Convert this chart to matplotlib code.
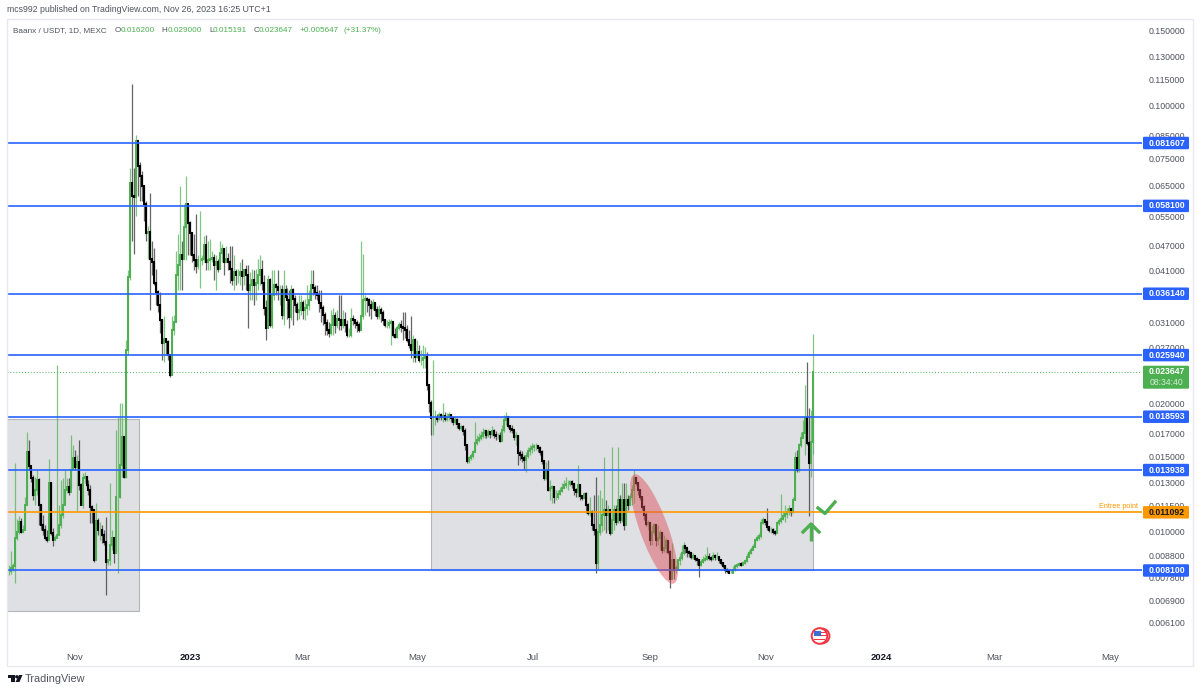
import matplotlib
matplotlib.use("Agg")
import numpy as np
import pandas as pd
import matplotlib.pyplot as plt
import matplotlib.dates as mdates
from matplotlib.patches import Rectangle, Ellipse, FancyBboxPatch, Circle, Polygon

plt.rcParams['font.family'] = ['Liberation Sans', 'DejaVu Sans']

# config
W, H = 1200, 692
GREEN = '#4caf50'
BLUE = '#2962ff'
ORANGE = '#ff9800'
GRAY_TEXT = '#50535e'

# prices, in units of 0.00001 USDT, one sample every ~2 px
closes = [
    806, 819, 828, 968, 995, 1051, 995, 1006, 1151, 1534,
    1421, 1332, 1215, 1249, 1318, 1151, 1034, 1006, 968, 953,
    1297, 990, 953, 963, 979, 1034, 1091, 1151, 1249, 1270,
    1235, 1391, 1484, 1414, 1453, 1283, 1151, 1332, 1340, 1283,
    1249, 1139, 1121, 855, 1056, 1006, 1006, 979, 943, 846,
    855, 928, 968, 889, 1202, 1202, 1429, 1663,
    1340, 2660, 3946, 6590, 6145, 6110, 8268, 7225, 6810, 6485,
    5885, 5030, 5058, 4370, 4280, 3820, 3640, 3393, 3128, 2763,
    2823, 2778, 2590, 2325, 2964, 3095, 3990, 4210, 4445, 4370,
    5170, 5860, 5310, 5030, 4445, 4325, 4190, 4325, 4325, 4350,
    4715, 4280, 4325, 4370, 4395, 4210, 4280, 4140, 4515, 4590,
    4280, 4370, 4280, 4140, 3882, 4055, 3990, 3990, 4055, 3970,
    4098, 3990, 3678, 3780, 3882, 3780, 3840, 3990, 4098, 3840,
    3338, 2995, 3882, 3045, 3580, 3780, 3740, 3678, 3678, 3215,
    3678, 3542, 3485, 3179, 3678, 3522, 3393, 3267, 3302, 3429,
    3302, 3338, 3393, 3485, 3780, 3718, 3620, 3580, 3429, 3338,
    3215, 3079, 2964, 2917, 3045, 3197, 3045, 3161, 3128, 3045,
    3128, 3045, 2886, 2886, 3161, 3128, 3079, 3045, 2964, 3197,
    3485, 3522, 3485, 3393, 3338, 3429, 3302, 3197, 3302, 3249,
    3128, 3045, 3045, 3079, 3095, 2886, 2855, 2995, 3045, 3012,
    2995, 2964, 2808, 2734, 2660, 2808, 2562, 2632, 2521, 2521,
    2550, 2562, 2202, 2000, 1842, 1842, 1842, 1833, 1873, 1853,
    1863, 1833, 1853, 1873, 1842, 1804, 1823, 1785, 1746, 1756,
    1718, 1593, 1460, 1484, 1500, 1534, 1610, 1636, 1654, 1672,
    1700, 1718, 1681, 1709, 1690, 1718, 1681, 1672, 1672, 1627,
    1727, 1823, 1853, 1765, 1737, 1727, 1663, 1672, 1525, 1509,
    1484, 1468, 1500, 1542, 1558, 1575, 1584, 1584, 1567, 1534,
    1460, 1332, 1384, 1249, 1263, 1270, 1202, 1202, 1222, 1242,
    1263, 1283, 1290, 1290, 1304, 1290, 1249, 1235, 1283, 1209,
    1196, 1222, 1151, 1103, 1109, 1034, 1006, 842, 995, 1034,
    1091, 1121, 1091, 1121, 990, 1062, 1121, 1051, 1183, 1062,
    1183, 1034, 1183, 1151, 1202, 1249, 1332, 1297, 1249, 1202,
    1139, 1091, 1040, 1045, 953, 995, 1034, 953, 963, 990,
    903, 913, 948, 894, 775, 855, 810, 819, 855, 868,
    889, 923, 913, 894, 889, 872, 876, 864, 855, 833,
    846, 855, 864, 872, 868, 864, 876, 870, 872, 855, 842,
    828, 810, 806, 801, 801, 810, 828, 833, 837, 835, 842,
    851, 872, 889, 903, 918, 953, 963, 974, 1045, 1062,
    1051, 1023, 1006, 1006, 995, 990, 1045, 1056, 1067, 1085,
    1097, 1109, 1127, 1109, 1183, 1484, 1391, 1593, 1654, 1700,
    1842, 1610, 1445, 1620, 2365,
]
highs = [
    835, 898, 843, 1445, 1067, 1086, 1073, 1034, 1202, 1708,
    1636, 1406, 1354, 1340, 1391, 1332, 1151, 1091, 1034, 1006,
    1476, 1304, 1017, 979, 2454, 1151, 1318, 1332, 1391, 1332,
    1332, 1681, 1593, 1550, 1509, 1636, 1297, 1370, 1377, 1347,
    1318, 1283, 1151, 1121, 1164, 1073, 1051, 1034, 1006, 1079,
    864, 1297, 1006, 963, 1727, 1853, 2000, 2000,
    1672, 2808, 4098, 7145, 11250, 7145, 8540, 8268, 7345, 7032,
    6485, 5980, 5225, 6245, 4818, 4615, 4140, 3678, 3640, 3161,
    3197, 2838, 2808, 2590, 3197, 3215, 4565, 5000, 6485, 4818,
    5885, 6845, 5885, 5368, 5030, 5000, 5575, 4445, 5666, 4445,
    4950, 4975, 4818, 4870, 4565, 4490, 4445, 4370, 4818, 4740,
    4615, 4690, 4515, 4690, 4690, 4445, 4140, 4140, 4280, 4370,
    4140, 4210, 4210, 4055, 4140, 4098, 4140, 4370, 4445, 4325,
    3990, 3485, 3990, 3925, 4098, 4098, 3840, 4098, 3780, 3780,
    4098, 3780, 3718, 3678, 3780, 3718, 3580, 3448, 3580, 3580,
    3485, 3522, 3780, 3678, 4098, 4098, 3780, 3780, 3678, 3678,
    3393, 3267, 3161, 3095, 3302, 3338, 3267, 3302, 3580, 3580,
    3302, 3267, 3128, 2995, 3338, 3215, 3161, 3128, 3095, 4818,
    4490, 3580, 3560, 3540, 3485, 3522, 3429, 3375, 3393, 3356,
    3302, 3161, 3128, 3161, 3161, 3095, 2995, 3045, 3095, 3128,
    3267, 3267, 3045, 2964, 3197, 2886, 2838, 2808, 2734, 2660,
    2734, 2704, 2632, 2202, 2031, 2521, 1924, 1883, 1904, 1893,
    2000, 1904, 1893, 1904, 1883, 1863, 1853, 1842, 1794, 1775,
    1775, 1746, 1593, 1500, 1525, 1550, 1804, 1681, 1700, 1718,
    1746, 1737, 1727, 1737, 1718, 1765, 1737, 1718, 1700, 1709,
    1775, 1873, 1904, 1863, 1775, 1775, 1727, 1709, 1681, 1550,
    1542, 1509, 1534, 1575, 1593, 1610, 1601, 1610, 1593, 1584,
    1550, 1468, 1453, 1468, 1318, 1283, 1270, 1249, 1249, 1270,
    1297, 1318, 1340, 1318, 1318, 1318, 1297, 1263, 1429, 1290,
    1215, 1235, 1235, 1164, 1202, 1121, 1215, 1340, 1215, 1249,
    1196, 1492, 1183, 1151, 1121, 1575, 1151, 1151, 1575, 1215,
    1297, 1297, 1297, 1215, 1228, 1283, 1391, 1340, 1304, 1249,
    1202, 1151, 1109, 1062, 1051, 1034, 1045, 1034, 1034, 1006,
    995, 979, 968, 948, 903, 938, 855, 833, 864, 889,
    928, 943, 928, 913, 903, 894, 889, 876, 872, 842,
    864, 876, 885, 918, 889, 876, 894, 885, 894, 872, 864,
    846, 833, 819, 810, 810, 828, 837, 842, 846, 846, 851,
    864, 889, 903, 918, 933, 968, 979, 990, 1067, 1079,
    1067, 1133, 1028, 1023, 1017, 1006, 1056, 1073, 1222, 1109,
    1151, 1133, 1151, 1133, 1202, 1534, 1550, 1610, 1709, 1823,
    2202, 2495, 1945, 1924, 2900,
]
lows = [
    789, 793, 806, 759, 953, 985, 990, 995, 1006, 1151,
    1391, 1304, 1183, 1151, 1215, 1034, 1006, 979, 953, 943,
    1006, 979, 923, 953, 963, 979, 1017, 1073, 1151, 1228,
    1215, 1263, 1391, 1391, 1109, 1249, 1151, 1133, 1297, 1263,
    1215, 1045, 1045, 846, 855, 979, 953, 938, 928, 711,
    833, 833, 903, 842, 889, 801, 1196, 1340,
    1332, 1332, 2590, 3882, 4818, 4490, 5515, 6145, 5980, 5980,
    5368, 4818, 4370, 3302, 3990, 3780, 3393, 3267, 2917, 2521,
    2495, 2590, 2521, 2300, 2325, 2886, 3095, 3678, 3678, 3678,
    4370, 4325, 4445, 4445, 4280, 4098, 4035, 4140, 3718, 4210,
    4280, 4098, 4098, 4098, 4280, 3882, 3678, 4055, 4140, 4280,
    3990, 4280, 4098, 3840, 3780, 3678, 3780, 3840, 3780, 3678,
    3780, 3678, 2995, 3485, 3485, 3393, 3485, 3678, 3780, 3678,
    3215, 2808, 2995, 3012, 2995, 3485, 3580, 3485, 3393, 3161,
    3045, 3485, 3161, 2995, 3128, 3045, 3267, 3128, 3161, 3215,
    3161, 3128, 3215, 3302, 3485, 3580, 3522, 3485, 3267, 3095,
    3045, 2886, 2886, 2855, 2886, 2886, 2917, 2995, 2964, 2964,
    2995, 2933, 2855, 2855, 2855, 3045, 2995, 2933, 2933, 2964,
    3161, 3215, 3267, 3197, 3161, 3302, 3197, 3161, 3161, 3095,
    3045, 3012, 2995, 2995, 2734, 2855, 2838, 2838, 2964, 2933,
    2808, 2838, 2778, 2690, 2550, 2495, 2495, 2550, 2495, 2454,
    2414, 2414, 2143, 1904, 1681, 1681, 1775, 1804, 1823, 1823,
    1804, 1813, 1813, 1823, 1804, 1775, 1785, 1746, 1727, 1727,
    1681, 1550, 1445, 1445, 1468, 1484, 1534, 1593, 1618, 1636,
    1654, 1654, 1654, 1663, 1654, 1672, 1654, 1636, 1645, 1618,
    1627, 1709, 1775, 1746, 1709, 1700, 1636, 1593, 1429, 1468,
    1453, 1391, 1377, 1484, 1509, 1525, 1542, 1550, 1534, 1509,
    1437, 1318, 1318, 1242, 1183, 1164, 1164, 1183, 1190, 1215,
    1235, 1263, 1263, 1249, 1277, 1263, 1215, 1202, 1202, 1183,
    1183, 1196, 1103, 1091, 1085, 1006, 979, 801, 810, 979,
    995, 1006, 990, 1006, 979, 990, 1006, 1034, 1045, 1045,
    1051, 1006, 1034, 1121, 1151, 1151, 1164, 1283, 1215, 1183,
    1121, 1062, 1028, 1006, 928, 928, 979, 923, 928, 903,
    889, 894, 889, 885, 735, 775, 775, 801, 810, 833,
    855, 880, 889, 872, 872, 864, 864, 851, 833, 780,
    828, 842, 851, 855, 855, 851, 855, 858, 860, 842, 833,
    819, 801, 797, 797, 797, 797, 806, 819, 828, 828, 833,
    837, 846, 872, 885, 903, 918, 948, 953, 968, 1040,
    1034, 1006, 995, 990, 985, 979, 990, 1034, 1045, 1062,
    1051, 1073, 1091, 1085, 1103, 1183, 1377, 1377, 1575, 1654,
    1509, 1593, 1085, 1340, 1519,
]

# horizontal levels drawn on the chart
blue_levels = [0.081607, 0.058100, 0.036140, 0.025940, 0.018593, 0.013938, 0.008100]
entry_level = 0.011092
last_price = 0.023647

price_ticks = [0.150, 0.130, 0.115, 0.100, 0.085, 0.075, 0.065, 0.055, 0.047, 0.041, 0.036,
               0.031, 0.027, 0.023, 0.020, 0.017, 0.015, 0.013, 0.0115, 0.010, 0.0088,
               0.0078, 0.0069, 0.0061]

time_ticks = ['2022-11-01', '2023-01-01', '2023-03-01', '2023-05-01', '2023-07-01',
              '2023-09-01', '2023-11-01', '2024-01-01', '2024-03-01', '2024-05-01']
time_labels = ['Nov', '2023', 'Mar', 'May', 'Jul', 'Sep', 'Nov', '2024', 'Mar', 'May']

# grey boxes: (first date, last date, top price, bottom price)
boxes = [('2022-09-26', '2022-12-05', 0.01837, 0.00651),
         ('2023-05-08', '2023-11-26', 0.018593, 0.008100)]

c = np.array(closes) / 1e5
hi = np.array(highs) / 1e5
lo = np.array(lows) / 1e5
o = np.concatenate([[c[0]], c[:-1]])
dates = mdates.date2num(pd.date_range('2022-09-27', '2023-11-26', periods=len(c)).to_pydatetime())
up = c >= o

fig = plt.figure(figsize=(W / 100, H / 100), dpi=100, facecolor='white')

# main price panel, in pixel positions of the reference
AX_L, AX_R, AX_T, AX_B = 7, 1142, 19, 645
ax = fig.add_axes([AX_L / W, 1 - AX_B / H, (AX_R - AX_L) / W, (AX_B - AX_T) / H])
ax.set_yscale('log')
ax.set_xlim(mdates.datestr2num('2022-09-26'), mdates.datestr2num('2024-05-18'))
ax.set_ylim(0.005415, 0.1595)
for s in ax.spines.values():
    s.set_visible(False)

for start, end, top, bottom in boxes:
    x0, x1 = mdates.datestr2num(start), mdates.datestr2num(end)
    ax.add_patch(Rectangle((x0, bottom), x1 - x0, top - bottom, facecolor='#dfe0e3',
                           edgecolor='#b4b6bb', lw=0.8, zorder=1))

# wicks then bodies
ax.vlines(dates[up], lo[up], hi[up], color=GREEN, lw=0.9, alpha=0.7, zorder=3)
ax.vlines(dates[~up], lo[~up], hi[~up], color='#333333', lw=0.9, alpha=0.75, zorder=3)
ax.vlines(dates[up], o[up], c[up], color=GREEN, lw=1.4, zorder=4, capstyle='projecting')
ax.vlines(dates[~up], o[~up], c[~up], color='black', lw=1.5, zorder=4, capstyle='projecting')

ax.hlines(blue_levels, *ax.get_xlim(), color=BLUE, lw=1.2, zorder=5)
ax.hlines(entry_level, *ax.get_xlim(), color=ORANGE, lw=1.2, zorder=5)
ax.hlines(last_price, *ax.get_xlim(), color=GREEN, lw=0.7, linestyles=(0, (1, 2)), zorder=2)

ax.yaxis.tick_right()
ax.minorticks_off()
ax.set_yticks(price_ticks)
ax.set_yticklabels([f'{p:.6f}' for p in price_ticks], fontsize=6.3, color=GRAY_TEXT)
ax.tick_params(axis='y', length=0, pad=5, which='both')
ax.yaxis.set_minor_locator(plt.NullLocator())

ax.set_xticks(mdates.datestr2num(time_ticks))
ax.set_xticklabels(time_labels, fontsize=6.8, color=GRAY_TEXT)
ax.tick_params(axis='x', length=0, pad=6)
for lab in ax.get_xticklabels():
    if lab.get_text() in ('2023', '2024'):
        lab.set_color('#131722')
        lab.set_fontweight('bold')

# overlay in reference pixels for the chrome and the drawings
ov = fig.add_axes([0, 0, 1, 1], facecolor='none')
ov.set_xlim(0, W)
ov.set_ylim(H, 0)
ov.axis('off')


def price_y(p):
    return H - ax.transData.transform((ax.get_xlim()[0], p))[1]


# panel frame
ov.add_patch(Rectangle((7, 19), 1186, 647, fill=False, edgecolor='#e8e9f0', lw=1))

# price labels on the axis
def price_tag(p, color, text_color='white', h=12.5):
    y = price_y(p)
    ov.add_patch(FancyBboxPatch((1143, y - h / 2), 46, h, boxstyle='round,pad=0,rounding_size=1.2',
                                facecolor=color, edgecolor='none', zorder=6))
    ov.text(1167, y, f'{p:.6f}', color=text_color, fontsize=6.3, ha='center', va='center',
            fontweight='bold', zorder=7)


for level in blue_levels:
    price_tag(level, BLUE)
price_tag(entry_level, ORANGE, '#131722')

y_last = price_y(last_price)
ov.add_patch(FancyBboxPatch((1143, y_last - 6.5), 46, 23, boxstyle='round,pad=0,rounding_size=1.2',
                            facecolor=GREEN, edgecolor='none', zorder=6))
ov.text(1167, y_last - 0.5, f'{last_price:.6f}', color='white', fontsize=6.2, ha='center', va='center',
        fontweight='bold', zorder=7)
ov.text(1167, y_last + 10.5, '08:34:40', color='#d5ecd6', fontsize=6.2, ha='center', va='center', zorder=7)

ov.text(1138, price_y(entry_level) - 6, 'Entree point', color=ORANGE, fontsize=5.2, ha='right', va='center')

# red ellipse
ov.add_patch(Ellipse((654, 529), 116, 28, angle=70, facecolor='#dc4f58', alpha=0.48,
                     edgecolor='none', zorder=3))

# green arrow and check mark
ov.plot([811, 811], [523, 541], color=GREEN, lw=2.4, solid_capstyle='butt', zorder=4)
ov.plot([803, 811, 819], [532, 524, 532], color=GREEN, lw=2.4, zorder=4)
ov.plot([818, 825, 835], [508, 513.5, 502], color=GREEN, lw=2.4, zorder=4)

# calendar event flag
ov.add_patch(Circle((822, 636), 7.5, facecolor='white', edgecolor='#f23645', lw=1.3, zorder=4))
ov.add_patch(Circle((819.5, 636), 7.8, facecolor='white', edgecolor='#f23645', lw=1.4, zorder=4))
ov.add_patch(Rectangle((814, 631), 7, 5, facecolor='#3a6fd8', edgecolor='none', zorder=5))
ov.add_patch(Rectangle((821, 631.5), 5.5, 1.3, facecolor='#f23645', edgecolor='none', zorder=5))
ov.add_patch(Rectangle((821, 634.5), 5.5, 1.3, facecolor='#f23645', edgecolor='none', zorder=5))
ov.add_patch(Rectangle((814, 638.5), 11, 1.6, facecolor='#f23645', edgecolor='none', zorder=5))

# header lines
ov.text(7, 10, 'mcs992 published on TradingView.com, Nov 26, 2023 16:25 UTC+1', color=GRAY_TEXT,
        fontsize=6.3, va='center')
ov.text(13, 30.5, 'Baanx / USDT, 1D, MEXC', color=GRAY_TEXT, fontsize=5.9, va='center')
header = [(115, 'O', GRAY_TEXT), (121, '0.016200', GREEN), (161, 'H', GRAY_TEXT), (168, '0.029000', GREEN),
          (209, 'L', GRAY_TEXT), (213, '0.015191', GREEN), (254, 'C', GRAY_TEXT), (258.5, '0.023647', GREEN),
          (300, '+0.005647', GREEN), (343, '(+31.37%)', GREEN)]
for x, txt, col in header:
    ov.text(x, 30.5, txt, color=col, fontsize=5.9, va='center')

# TradingView logo
ov.add_patch(Polygon([(8, 675), (14.5, 675), (14.5, 682), (11, 682), (11, 678), (8, 678)],
                     facecolor='#131722', edgecolor='none'))
ov.add_patch(Circle((16.8, 676.8), 1.7, facecolor='#131722', edgecolor='none'))
ov.add_patch(Polygon([(19, 675), (22.5, 675), (19.5, 682), (15.5, 682)], facecolor='#131722', edgecolor='none'))
ov.text(25, 678.5, 'TradingView', color=GRAY_TEXT, fontsize=7.8, va='center')

fig.savefig('out.png', dpi=100, facecolor='white')
